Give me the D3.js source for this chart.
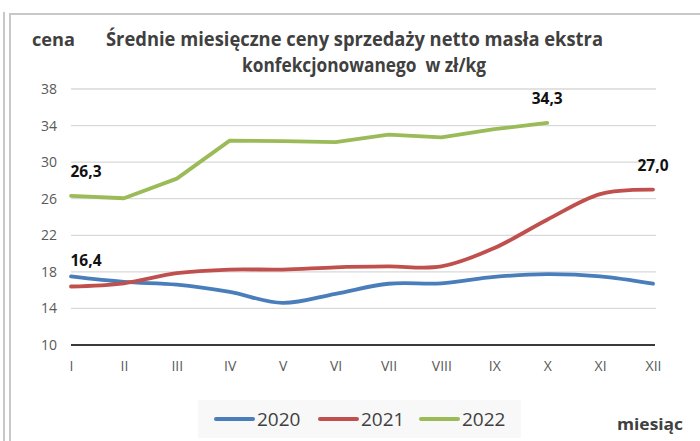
<!DOCTYPE html>
<html>
<head>
<meta charset="utf-8">
<script src="https://cdn.jsdelivr.net/npm/d3@7"></script>
<style>
  body { margin: 0; background: #fff; }
  svg { display: block; font-family: "Open Sans", "Noto Sans", sans-serif; }
</style>
</head>
<body>
<svg width="700" height="441"></svg>
<script>
const months = ["I", "II", "III", "IV", "V", "VI", "VII", "VIII", "IX", "X", "XI", "XII"]
const years = ["2020", "2021", "2022"]
const values2020 = [17.5, 16.9, 16.6, 15.8, 14.6, 15.6, 16.7, 16.75, 17.45, 17.75, 17.5, 16.7]
const values2021 = [16.4, 16.75, 17.85, 18.25, 18.25, 18.5, 18.6, 18.6, 20.6, 23.7, 26.5, 27.0]
const values2022 = [26.3, 26.05, 28.2, 32.35, 32.3, 32.2, 33.0, 32.7, 33.6, 34.3]
const yTicks = [10, 14, 18, 22, 26, 30, 34, 38]
// which points get a value label: [series index, month index]
const labelled = [[1, 0], [1, 11], [2, 0], [2, 9]]

const colours = ["#4a7ebb", "#c0504d", "#9bbb59"]
const series = [values2020, values2021, values2022]

const svg = d3.select("svg")

// frame
svg.append("line").attr("x1", 4).attr("x2", 4).attr("y1", 12).attr("y2", 441)
  .attr("stroke", "#c8c8c8").attr("stroke-width", 2)
svg.append("rect").attr("x", 10).attr("y", 14).attr("width", 700).attr("height", 440)
  .attr("fill", "none").attr("stroke", "#c8c8c8").attr("stroke-width", 2)

const x = d3.scalePoint().domain(months).range([71, 653])
const y = d3.scaleLinear().domain([10, 38]).range([345, 89])

// gridlines
svg.append("g").selectAll("line")
  .data(yTicks.slice(1))
  .enter().append("line")
  .attr("x1", 71).attr("x2", 656)
  .attr("y1", d => y(d)).attr("y2", d => y(d))
  .attr("stroke", "#d9d9d9").attr("stroke-width", 1.3)

// y axis labels
const yAxis = svg.append("g")
  .attr("transform", "translate(57,0)")
  .call(d3.axisLeft(y).tickValues(yTicks).tickSize(0).tickPadding(0))
yAxis.select(".domain").remove()
yAxis.selectAll("text")
  .attr("fill", "#595959").attr("font-size", 14)
  .attr("font-family", "Open Sans, sans-serif")

// x axis
const xAxis = svg.append("g")
  .attr("transform", `translate(0,${y(10)})`)
  .call(d3.axisBottom(x).tickSize(0).tickPadding(16))
xAxis.select(".domain").remove()
xAxis.selectAll("text")
  .attr("fill", "#595959").attr("font-size", 14)
  .attr("font-family", "Open Sans, sans-serif")
svg.append("line")
  .attr("x1", 71).attr("x2", 655)
  .attr("y1", y(10)).attr("y2", y(10))
  .attr("stroke", "#3a3a3a").attr("stroke-width", 2.2)

// series lines
const smooth = d3.line()
  .x((d, i) => x(months[i]))
  .y(d => y(d))
  .curve(d3.curveCatmullRom.alpha(0))
const straight = d3.line()
  .x((d, i) => x(months[i]))
  .y(d => y(d))

svg.append("g").selectAll("path")
  .data(series)
  .enter().append("path")
  .attr("d", (d, i) => i === 2 ? straight(d) : smooth(d))
  .attr("fill", "none")
  .attr("stroke", (d, i) => colours[i])
  .attr("stroke-width", 3.8)
  .attr("stroke-linejoin", "round")
  .attr("stroke-linecap", "round")

// value labels
const fmt = v => v.toFixed(1).replace(".", ",")
svg.append("g").selectAll("text")
  .data(labelled)
  .enter().append("text")
  .attr("x", d => x(months[d[1]]) + (d[1] === 0 ? 15 : 0))
  .attr("y", d => y(series[d[0]][d[1]]) - (d[0] === 1 && d[1] === 0 ? 20 : 19))
  .attr("text-anchor", "middle")
  .attr("font-size", 15.5).attr("font-weight", "bold")
  .attr("fill", "#111")
  .text(d => fmt(series[d[0]][d[1]]))

// titles
svg.append("text").attr("x", 32).attr("y", 46)
  .attr("font-size", 18).attr("font-weight", "bold").attr("fill", "#404040")
  .attr("textLength", 43).attr("lengthAdjust", "spacingAndGlyphs")
  .text("cena")
svg.append("text").attr("x", 106).attr("y", 46)
  .attr("font-size", 19).attr("font-weight", "bold").attr("fill", "#404040")
  .attr("textLength", 497).attr("lengthAdjust", "spacingAndGlyphs")
  .text("Średnie miesięczne ceny sprzedaży netto masła ekstra")
svg.append("text").attr("x", 242).attr("y", 72)
  .attr("font-size", 19).attr("font-weight", "bold").attr("fill", "#404040")
  .attr("textLength", 244).attr("lengthAdjust", "spacingAndGlyphs")
  .attr("xml:space", "preserve")
  .text("konfekcjonowanego  w zł/kg")

// legend
const legend = svg.append("g")
legend.append("rect").attr("x", 198).attr("y", 400).attr("width", 323).attr("height", 38)
  .attr("fill", "#f8f8f8")
const legendX = [216, 320, 421]
years.forEach((yr, i) => {
  legend.append("line")
    .attr("x1", legendX[i]).attr("x2", legendX[i] + 37)
    .attr("y1", 419).attr("y2", 419)
    .attr("stroke", colours[i]).attr("stroke-width", 4).attr("stroke-linecap", "round")
  legend.append("text")
    .attr("x", legendX[i] + 41).attr("y", 426)
    .attr("font-size", 19).attr("fill", "#404040")
    .text(yr)
})

svg.append("text").attr("x", 617).attr("y", 430)
  .attr("font-size", 16).attr("font-weight", "bold").attr("fill", "#404040")
  .attr("textLength", 66).attr("lengthAdjust", "spacingAndGlyphs")
  .text("miesiąc")
</script>
</body>
</html>
